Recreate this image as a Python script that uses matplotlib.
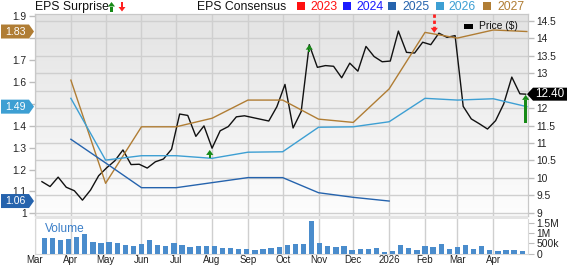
import matplotlib
matplotlib.use('Agg')
import matplotlib.pyplot as plt
import numpy as np
import pandas as pd
from matplotlib.patches import Polygon, Rectangle
from matplotlib.colors import LinearSegmentedColormap
from matplotlib.lines import Line2D

plt.rcParams['font.family'] = ['Liberation Sans', 'DejaVu Sans']

# ---------------- data ----------------
price_dates = list(pd.date_range('2025-03-07', periods=60, freq='7D').strftime('%Y-%m-%d')) + ['2026-04-29']
price_values = [9.89, 9.75, 10.02, 9.73, 9.63, 9.36, 9.65, 10.06,
                10.29, 10.49, 10.80, 10.38, 10.39,
                10.28, 10.46, 10.54, 10.82,
                11.83, 11.79, 11.19, 11.49,
                10.85, 11.35, 11.47, 11.75, 11.78,
                11.73, 11.68, 11.63, 12.04,
                12.68, 11.43, 11.90, 13.82, 13.17,
                13.22, 13.20, 12.87, 13.29,
                13.06, 13.77, 13.48, 13.33,
                13.35, 14.21, 13.60, 13.58, 13.89,
                13.82, 14.15, 14.03, 14.08,
                12.05, 11.69, 11.55, 11.40,
                11.64, 12.12, 12.89, 12.41, 12.40]

cons_dates = ['2025-04-01', '2025-05-01', '2025-06-01', '2025-07-01', '2025-08-01',
              '2025-09-01', '2025-10-01', '2025-11-01', '2025-12-01', '2026-01-01',
              '2026-02-01', '2026-03-01', '2026-04-01', '2026-04-30']
eps_2027 = [1.608, 1.137, 1.395, 1.395, 1.434, 1.517, 1.517, 1.430, 1.415, 1.568,
            1.826, 1.800, 1.837, 1.830]
eps_2026 = [1.525, 1.243, 1.263, 1.263, 1.251, 1.279, 1.281, 1.393, 1.395, 1.418,
            1.525, 1.517, 1.523, 1.487]
eps_2025 = [1.338, 1.230, 1.117, 1.117, 1.140, 1.163, 1.163, 1.094, 1.073, 1.056]

vol_dates = list(pd.date_range('2025-03-09', periods=60, freq='7D').strftime('%Y-%m-%d'))
vol_values = [0.76, 0.73, 0.66, 0.69, 0.79, 0.97, 0.56, 0.53, 0.55, 0.52,
              0.39, 0.37, 0.44, 0.65, 0.40, 0.35, 0.50, 0.40, 0.32, 0.35,
              0.34, 0.35, 0.29, 0.29, 0.22, 0.21, 0.17, 0.22, 0.29, 0.32,
              0.39, 0.45, 0.45, 1.57, 0.50, 0.37, 0.32, 0.34, 0.16, 0.24,
              0.24, 0.27, 0.06, 0.11, 0.39, 0.26, 0.17, 0.34, 0.31, 0.47,
              0.22, 0.31, 0.40, 0.24, 0.34, 0.15, 0.11, 0.16, 0.17, 0.11]  # millions

surprise_dates = ['2025-07-30', '2025-10-24', '2026-02-09', '2026-04-29']
surprise_from = [10.57, 13.61, 14.70, 11.57]
surprise_to = [10.80, 13.82, 14.16, 12.38]
surprise_kind = ['beat', 'beat', 'miss', 'beat']

month_ticks = ['2025-03-01', '2025-04-01', '2025-05-01', '2025-06-01', '2025-07-01',
               '2025-08-01', '2025-09-01', '2025-10-01', '2025-11-01', '2025-12-01',
               '2026-01-01', '2026-02-01', '2026-03-01', '2026-04-01']
month_labels = ['Mar', 'Apr', 'May', 'Jun', 'Jul', 'Aug', 'Sep', 'Oct', 'Nov', 'Dec',
                '2026', 'Feb', 'Mar', 'Apr']
price_ticks = [9, 9.5, 10, 10.5, 11, 11.5, 12, 12.5, 13, 13.5, 14, 14.5]
# 12.5 is hidden behind the last-price tag in the reference
price_tick_labels = ['9', '9.5', '10', '10.5', '11', '11.5', '12', '', '13', '13.5', '14', '14.5']
eps_ticks = [1.0, 1.1, 1.2, 1.3, 1.4, 1.5, 1.6, 1.7, 1.8, 1.9]
# 1.5 and 1.8 are hidden behind the consensus tags in the reference
eps_tick_labels = ['1', '1.1', '1.2', '1.3', '1.4', '', '1.6', '1.7', '', '1.9']
vol_ticks = [0, 0.5, 1.0, 1.5]
vol_tick_labels = ['0', '500k', '1M', '1.5M']
legend_years = ['2023', '2024', '2025', '2026', '2027']

C = {'2023': '#ff1010', '2024': '#1a1aff', '2025': '#2563ad', '2026': '#3d9fd3', '2027': '#b07d34'}
GREEN = '#168a16'
RED = '#ff2020'
GRID = '#cfcfcf'

# ---------------- figure ----------------
W, H = 568, 266
fig = plt.figure(figsize=(W / 100, H / 100), dpi=100)
fig.patch.set_facecolor('white')


def fx(px):
    return px / W


def fy(py):
    return 1 - py / H


ax_p = fig.add_axes([fx(35), fy(216), fx(493), (216 - 14) / H])
ax_v = fig.add_axes([fx(35), fy(253.5), fx(493), (253.5 - 219) / H], sharex=ax_p)

# gradient background
cmap = LinearSegmentedColormap.from_list('bg', ['#e3e3e3', '#fdfdfd'])
grad = np.linspace(0, 1, 256).reshape(-1, 1)
ax_p.imshow(grad, extent=[0, 1, 0, 1], transform=ax_p.transAxes, aspect='auto',
            cmap=cmap, origin='upper', zorder=0)

pd_price = pd.to_datetime(price_dates)
ax_p.plot(pd_price, price_values, color='#111111', lw=1.0, zorder=4)

xmin, xmax = pd.Timestamp('2025-03-01'), pd.Timestamp('2026-05-01')
ax_p.set_xlim(xmin, xmax)
ax_p.set_ylim(8.905, 14.70)
mt = pd.to_datetime(month_ticks)
ax_p.set_xticks(mt)
ax_p.set_yticks(price_ticks)
ax_p.set_yticklabels(price_tick_labels)
ax_p.grid(True, color=GRID, lw=1.0, zorder=1)
ax_p.set_axisbelow(True)
ax_p.tick_params(axis='x', labelbottom=False, length=0)

ax_e = ax_p.twinx()
ax_p.yaxis.tick_right()
ax_e.yaxis.tick_left()
for key, vals in [('2027', eps_2027), ('2026', eps_2026), ('2025', eps_2025)]:
    ax_e.plot(pd.to_datetime(cons_dates[:len(vals)]), vals, color=C[key], lw=1.0, zorder=3)
ax_e.set_ylim(0.9877, 1.910)
ax_e.set_yticks(eps_ticks)
ax_e.set_yticklabels(eps_tick_labels)
ax_e.set_xlim(xmin, xmax)

for a in (ax_p, ax_e):
    for s in a.spines.values():
        s.set_color('#c8c8c8')
    a.tick_params(axis='y', labelsize=7.4, length=4, width=1, color='#bdbdbd',
                  labelcolor='#222222', pad=2)

# volume
ax_v.bar(pd.to_datetime(vol_dates), vol_values, width=4.6, color='#4a8ccc', zorder=3)
ax_v.set_ylim(0, 1.675)
ax_v.set_yticks(vol_ticks)
ax_v.set_yticklabels(vol_tick_labels)
ax_v.yaxis.tick_right()
ax_v.set_xticks(mt)
ax_v.set_xticklabels(month_labels)
ax_v.grid(True, axis='x', color=GRID, lw=1.0, zorder=1)
ax_v.set_axisbelow(True)
ax_v.tick_params(axis='x', length=0, labelsize=7.0, pad=1.0, labelcolor='#222222')
ax_v.tick_params(axis='y', labelsize=7.4, length=4, color='#bdbdbd', labelcolor='#222222', pad=2)
ax_v.set_xlim(xmin, xmax)
for s in ax_v.spines.values():
    s.set_color('#d8d8d8')
ax_v.spines['top'].set_visible(False)
ax_v.text(0.021, 0.72, 'Volume', transform=ax_v.transAxes, fontsize=8.6,
          color='#3a7ec8', va='center', ha='left')

# separator band
fig.add_artist(Rectangle((fx(35), fy(219)), fx(493), 3 / H, transform=fig.transFigure,
                         fc='#e4e4e4', ec='none', zorder=2))

fig.canvas.draw()


def py_of(ax, val):
    return H - ax.get_yaxis_transform().transform((0, val))[1]


def px_of(ax, date):
    return ax.get_xaxis_transform().transform((matplotlib.dates.date2num(pd.Timestamp(date)), 0))[0]


def poly(pts, color, z=10):
    p = Polygon([(fx(x), fy(y)) for x, y in pts], closed=True, transform=fig.transFigure,
                fc=color, ec='none', zorder=z)
    fig.add_artist(p)


def arrow(xc, y_tail, y_tip, color, sw=1.1, hw=3.6, hl=5.0, dotted=False):
    d = 1 if y_tip > y_tail else -1
    yb = y_tip - d * hl
    if dotted:
        fig.add_artist(Line2D([fx(xc), fx(xc)], [fy(y_tail), fy(yb)], transform=fig.transFigure,
                              color=color, lw=2.0, ls=(0, (1.2, 1.0)), zorder=10))
    else:
        poly([(xc - sw, y_tail), (xc - sw, yb), (xc + sw, yb), (xc + sw, y_tail)], color)
    poly([(xc - hw, yb), (xc, y_tip), (xc + hw, yb)], color)


# surprise arrows on the chart
for dt, f, t, k in zip(surprise_dates, surprise_from, surprise_to, surprise_kind):
    xc = px_of(ax_p, dt)
    ytail, ytip = py_of(ax_p, f), py_of(ax_p, t)
    if k == 'beat':
        arrow(xc, ytail, ytip, GREEN, sw=1.2 if abs(ytail - ytip) < 15 else 1.4)
    else:
        arrow(xc, ytail, ytip, RED, dotted=True)


# left tags
def left_tag(val, color):
    y = py_of(ax_e, val)
    poly([(1, y - 7), (29, y - 7), (34, y), (29, y + 7), (1, y + 7)], color, z=11)
    fig.text(fx(15), fy(y), f'{val:.2f}', color='white', fontsize=7.6, ha='center',
             va='center', zorder=12)


left_tag(eps_2027[-1], C['2027'])
left_tag(eps_2026[-1], C['2026'])
left_tag(eps_2025[-1], C['2025'])

# right price tag
yp = py_of(ax_p, price_values[-1])
poly([(527, yp), (533, yp - 6.5), (567, yp - 6.5), (567, yp + 6.5), (533, yp + 6.5)], '#000000', z=11)
fig.text(fx(550), fy(yp), f'{price_values[-1]:.2f}', color='white', fontsize=8.4,
         ha='center', va='center', zorder=12)

# top legends
fig.text(fx(35), fy(7), 'EPS Surprise', fontsize=8.8, va='center', ha='left', color='#111111')
arrow(111.5, 11.5, 2.0, GREEN, sw=1.1, hw=3.5, hl=4.5)
arrow(122.0, 2.0, 11.5, RED, sw=1.1, hw=3.5, hl=4.5)
fig.text(fx(197), fy(7), 'EPS Consensus', fontsize=8.8, va='center', ha='left', color='#111111')
sq_x = [297, 343, 388, 436, 483]
tx_x = [310, 356, 402, 448, 497]
for yr, sx, tx in zip(legend_years, sq_x, tx_x):
    fig.add_artist(Rectangle((fx(sx), fy(10)), fx(8), 7.5 / H, transform=fig.transFigure,
                             fc=C[yr], ec='none'))
    fig.text(fx(tx), fy(7), yr, fontsize=8.8, va='center', ha='left', color=C[yr])

# price legend inside plot
fig.add_artist(Rectangle((fx(464), fy(28.5)), fx(9), 4.5 / H, transform=fig.transFigure,
                         fc='#000000', ec='none', zorder=10))
fig.text(fx(479), fy(26), 'Price ($)', fontsize=7.4, va='center', ha='left', color='#111111', zorder=10)

fig.savefig('out.png', dpi=100)
